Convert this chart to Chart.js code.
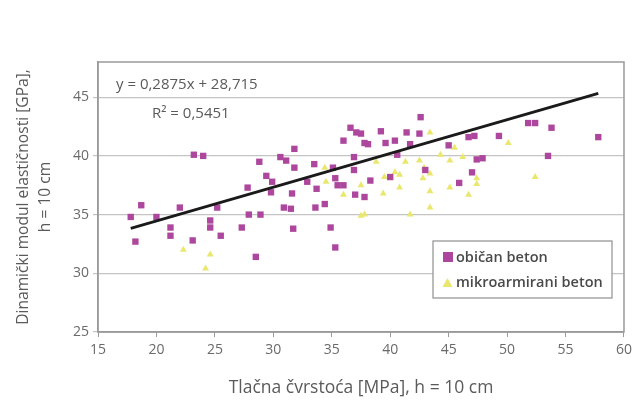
<!DOCTYPE html>
<html>
<head>
<meta charset="utf-8">
<script src="https://cdn.jsdelivr.net/npm/chart.js@4.4.1/dist/chart.umd.min.js"></script>
<style>
  html, body { margin: 0; padding: 0; background: #fff; }
  #wrap { width: 637px; height: 403px; position: relative; }
</style>
</head>
<body>
<div id="wrap"><canvas id="chart" width="637" height="403"></canvas></div>
<script>
// običan beton (x = tlačna čvrstoća, y = dinamički modul)
const obicanX = [17.8, 18.2, 18.7, 20.0, 21.2, 21.2, 22.0, 23.2, 24.0, 23.1, 24.6, 24.6, 25.2, 25.5, 27.3, 27.8,
  27.9, 28.9, 28.5, 28.8, 29.4, 29.9, 29.8, 30.6, 31.1, 31.8, 31.8, 30.9, 31.5, 31.6, 31.7, 32.9, 33.5, 33.7,
  33.6, 34.4, 34.9, 35.3, 35.1, 35.3, 35.5, 36.0, 36.0, 36.6, 37.1, 37.5, 37.8, 36.9, 36.9, 37.0, 37.8, 38.3,
  38.1, 39.2, 39.6, 40.4, 40.0, 40.6, 41.4, 41.7, 42.5, 42.6, 43.0, 45.0, 45.9, 46.7, 47.2, 47.0, 47.4, 47.9,
  49.3, 51.8, 52.4, 53.8, 53.5, 57.8];
const obicanY = [34.8, 32.7, 35.8, 34.8, 33.9, 33.2, 35.6, 40.1, 40.0, 32.8, 34.5, 33.9, 35.6, 33.2, 33.9, 37.3,
  35.0, 35.0, 31.4, 39.5, 38.3, 37.8, 36.9, 39.9, 39.6, 39.0, 40.6, 35.6, 35.5, 36.8, 33.8, 37.8, 39.3, 37.2,
  35.6, 35.9, 33.9, 32.2, 39.0, 38.1, 37.5, 37.5, 41.3, 42.4, 42.0, 41.9, 41.1, 39.9, 38.8, 36.7, 36.5, 37.9,
  41.0, 42.1, 41.1, 41.3, 38.2, 40.1, 42.0, 41.0, 41.9, 43.3, 38.8, 40.9, 37.7, 41.6, 41.7, 38.6, 39.7, 39.8,
  41.7, 42.8, 42.8, 42.4, 40.0, 41.6];

// mikroarmirani beton
const mikroX = [22.3, 24.6, 24.2, 34.4, 34.5, 36.0, 37.5, 37.5, 43.4, 38.8, 41.3, 42.5, 44.3, 45.5, 46.2, 45.1,
  39.5, 40.8, 42.8, 43.4, 47.4, 47.4, 39.4, 40.8, 43.4, 45.1, 46.7, 43.4, 41.7, 37.8, 42.9, 40.4, 50.1, 52.4];
const mikroY = [32.0, 31.6, 30.4, 39.0, 37.8, 36.7, 34.9, 37.5, 42.0, 39.5, 39.5, 39.6, 40.1, 40.7, 39.9, 39.6,
  38.2, 38.4, 38.1, 38.5, 38.1, 37.6, 36.8, 37.3, 37.0, 37.3, 36.7, 35.6, 35.0, 35.0, 39.0, 38.6, 41.1, 38.2];

// linearni trend (iz jednadžbe na grafu)
const trendSlope = 0.2875;
const trendIntercept = 28.715;
const trendX = [17.8, 57.8];

const xTicks = [15, 20, 25, 30, 35, 40, 45, 50, 55, 60];
const yTicks = [25, 30, 35, 40, 45];

const purple = '#ad479d';
const yellow = '#e9e76e';
const txt = '#5a5a5a';
const FONT = "'Open Sans', 'Noto Sans', sans-serif";

const toPoints = (xs, ys) => xs.map((x, i) => ({ x: x, y: ys[i] }));

// okvir, jednadžba i legenda
const extras = {
  id: 'extras',
  afterDraw(chart) {
    const { ctx, chartArea: a } = chart;
    ctx.save();
    ctx.strokeStyle = '#9a9a9a';
    ctx.lineWidth = 1.5;
    ctx.strokeRect(a.left, a.top, a.right - a.left, a.bottom - a.top);

    ctx.fillStyle = txt;
    ctx.font = '15px ' + FONT;
    ctx.textBaseline = 'middle';
    ctx.fillText('y = 0,2875x + 28,715', 116, 85);
    ctx.fillText('R² = 0,5451', 152, 114);

    // legenda
    ctx.fillStyle = '#fff';
    ctx.fillRect(433, 241, 179, 57);
    ctx.strokeStyle = '#8f8f8f';
    ctx.lineWidth = 1.2;
    ctx.strokeRect(433, 241, 179, 57);

    ctx.fillStyle = purple;
    ctx.fillRect(443, 252, 10, 10);
    ctx.fillStyle = yellow;
    ctx.beginPath();
    ctx.moveTo(447.5, 278);
    ctx.lineTo(452.5, 287);
    ctx.lineTo(442.5, 287);
    ctx.closePath();
    ctx.fill();

    ctx.fillStyle = '#4a4a4a';
    ctx.font = '600 14.5px ' + FONT;
    ctx.fillText('običan beton', 456, 258);
    ctx.fillText('mikroarmirani beton', 456, 283);
    ctx.restore();
  }
};

new Chart(document.getElementById('chart'), {
  type: 'scatter',
  data: {
    datasets: [
      {
        label: 'običan beton',
        data: toPoints(obicanX, obicanY),
        pointStyle: 'rect',
        pointRadius: 4.5,
        backgroundColor: purple,
        borderColor: purple,
        borderWidth: 0,
        order: 2
      },
      {
        label: 'mikroarmirani beton',
        data: toPoints(mikroX, mikroY),
        pointStyle: 'triangle',
        pointRadius: 4,
        backgroundColor: yellow,
        borderColor: yellow,
        borderWidth: 0,
        order: 3
      },
      {
        type: 'line',
        label: 'trend',
        data: trendX.map(x => ({ x: x, y: trendSlope * x + trendIntercept })),
        borderColor: '#1a1a1a',
        borderWidth: 2.8,
        pointRadius: 0,
        fill: false,
        order: 1
      }
    ]
  },
  options: {
    responsive: false,
    animation: false,
    layout: { padding: { top: 62, right: 9, left: 0, bottom: 0 } },
    plugins: { legend: { display: false }, tooltip: { enabled: false } },
    scales: {
      x: {
        type: 'linear',
        min: 15, max: 60,
        afterBuildTicks: s => { s.ticks = xTicks.map(v => ({ value: v })); },
        afterFit: s => { s.height = 71; },
        ticks: { color: '#6a6a6a', font: { size: 14, family: FONT }, padding: 5 },
        grid: { drawOnChartArea: false, color: '#9a9a9a', tickLength: 5 },
        border: { color: '#9a9a9a', width: 1.5 },
        title: {
          display: true,
          text: 'Tlačna čvrstoća [MPa], h = 10 cm',
          color: txt,
          font: { size: 17.5, family: FONT },
          padding: { top: 9 }
        }
      },
      y: {
        type: 'linear',
        min: 25, max: 48,
        afterBuildTicks: s => { s.ticks = yTicks.map(v => ({ value: v })); },
        afterFit: s => { s.width = 98; },
        ticks: { color: '#6a6a6a', font: { size: 14, family: FONT }, padding: 4 },
        grid: { color: '#c4c4c4', lineWidth: 1.2, tickLength: 5 },
        border: { color: '#9a9a9a', width: 1.5 },
        title: {
          display: true,
          text: ['Dinamički modul elastičnosti [GPa],', 'h = 10 cm'],
          color: txt,
          font: { size: 15.6, family: FONT, lineHeight: 1.45 },
          padding: { top: 12, bottom: 4 }
        }
      }
    }
  },
  plugins: [extras]
});
</script>
</body>
</html>
